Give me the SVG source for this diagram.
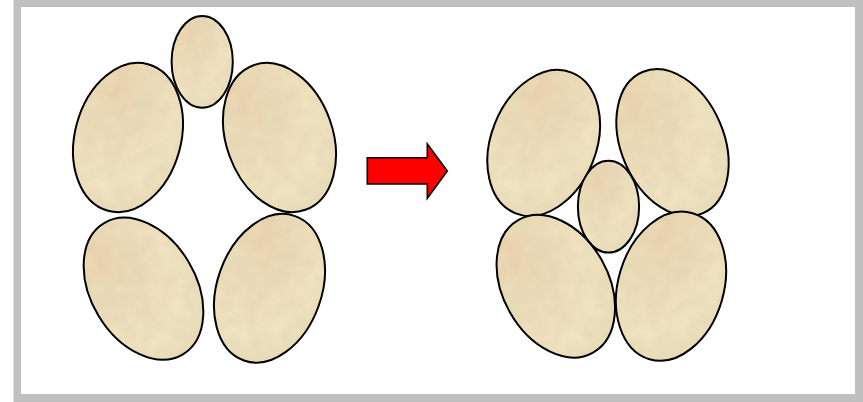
<svg xmlns="http://www.w3.org/2000/svg" width="863" height="402" viewBox="0 0 863 402">
<defs>
<style>
.egg{fill:url(#eggFill);filter:url(#tex)}
.rim{fill:none;stroke:#000;stroke-width:2}
.arrow{fill:#ff0000;stroke:#000;stroke-width:1.6;stroke-linejoin:miter}
</style>
<radialGradient id="eggFill" cx="0.3" cy="0.18" r="0.9">
<stop offset="0" stop-color="#edd4b0"/>
<stop offset="0.3" stop-color="#ebdcb8"/>
<stop offset="0.75" stop-color="#f0e3c0"/>
<stop offset="1" stop-color="#e9dcb8"/>
</radialGradient>
<filter id="tex" x="0" y="0" width="100%" height="100%">
<feTurbulence type="fractalNoise" baseFrequency="0.07" numOctaves="3" seed="4" result="n"/>
<feColorMatrix in="n" type="matrix" values="0 0 0 0 0.55  0 0 0 0 0.48  0 0 0 0 0.35  0 0 0 0.35 -0.1" result="c"/>
<feComposite in="c" in2="SourceGraphic" operator="in" result="ci"/>
<feMerge><feMergeNode in="SourceGraphic"/><feMergeNode in="ci"/></feMerge>
</filter>
<ellipse id="small" cx="0" cy="0" rx="30.6" ry="45.9"/>
</defs>
<rect x="13.5" y="0" width="849.5" height="402" fill="#c0c0c0"/>
<rect x="21" y="7" width="834" height="387" fill="#ffffff"/>

<g id="left-small-top" transform="translate(202.2,61.8)"><use href="#small" class="egg"/><use href="#small" class="rim"/></g>
<g id="left-upper-left" transform="translate(128,137.5) rotate(15.3)"><ellipse class="egg" rx="53" ry="76"/><ellipse class="rim" rx="53" ry="76"/></g>
<g id="left-upper-right" transform="translate(279.5,137.5) rotate(-19.7)"><ellipse class="egg" rx="53.3" ry="76.8"/><ellipse class="rim" rx="53.3" ry="76.8"/></g>
<g id="left-lower-left" transform="translate(143.5,288.7) rotate(-31)"><ellipse class="egg" rx="52.5" ry="76.5"/><ellipse class="rim" rx="52.5" ry="76.5"/></g>
<g id="left-lower-right" transform="translate(269.5,288.3) rotate(19.5)"><ellipse class="egg" rx="52.2" ry="76.6"/><ellipse class="rim" rx="52.2" ry="76.6"/></g>

<g id="transform-arrow"><polygon class="arrow" points="367.3,157.7 427.3,157.7 427.3,144 447.3,171 427.3,198.3 427.3,184 367.3,184"/></g>

<g id="right-upper-left" transform="translate(543.7,143) rotate(21.7)"><ellipse class="egg" rx="52.6" ry="75.7"/><ellipse class="rim" rx="52.6" ry="75.7"/></g>
<g id="right-upper-right" transform="translate(672.5,142.7) rotate(-23)"><ellipse class="egg" rx="51.5" ry="76.8"/><ellipse class="rim" rx="51.5" ry="76.8"/></g>
<g id="right-small-middle" transform="translate(608.5,206.7)"><use href="#small" class="egg"/><use href="#small" class="rim"/></g>
<g id="right-lower-left" transform="translate(555.8,286.2) rotate(-29.3)"><ellipse class="egg" rx="52.8" ry="76.1"/><ellipse class="rim" rx="52.8" ry="76.1"/></g>
<g id="right-lower-right" transform="translate(671,286.2) rotate(16.5)"><ellipse class="egg" rx="52.8" ry="76.1"/><ellipse class="rim" rx="52.8" ry="76.1"/></g>
</svg>
